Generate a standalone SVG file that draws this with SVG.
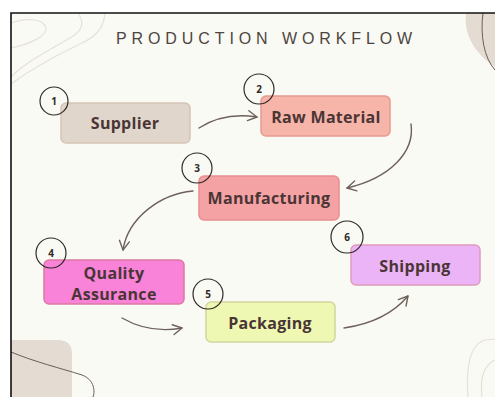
<svg xmlns="http://www.w3.org/2000/svg" width="495" height="397" viewBox="0 0 495 397">
  <defs>
    <style>
      .title { font-family: "Liberation Sans", Arial, sans-serif; font-size: 16px; fill: #4d4540; letter-spacing: 4.9px; }
      .box { stroke-width: 1.5; }
      .label { font-family: "Open Sans", "Liberation Sans", sans-serif; font-weight: bold; font-size: 16px; fill: #4a3535; text-anchor: middle; letter-spacing: 0.3px; }
      .badge { fill: none; stroke: #2f2a28; stroke-width: 1.2; }
      .num { font-family: "Open Sans", "Liberation Sans", sans-serif; font-weight: bold; font-size: 10px; fill: #2f2a28; text-anchor: middle; }
      .flow { fill: none; stroke: #6e615c; stroke-width: 1.4; stroke-linecap: round; }
      .contour { fill: none; stroke: #e6e1d8; stroke-width: 1.2; }
    </style>
    <marker id="arrow" viewBox="0 0 12 12" refX="10" refY="6" markerWidth="12" markerHeight="12" markerUnits="userSpaceOnUse" orient="auto">
      <path d="M1,1 L10,6 L1,11" fill="none" stroke="#6e615c" stroke-width="1.4" stroke-linecap="round" stroke-linejoin="round"/>
    </marker>
  </defs>

  <!-- page and frame -->
  <rect x="0" y="0" width="495" height="397" fill="#ffffff"/>
  <rect x="11" y="13" width="490" height="390" fill="#fafaf4"/>

  <!-- background decoration -->
  <g id="decor">
    <path class="contour" d="M78,13 C84,22 84,30 70,38 C50,50 25,62 11,77"/>
    <path class="contour" d="M105,13 C104,26 98,36 80,44 C55,56 30,70 11,84"/>
    <path class="contour" d="M11,23 C25,18 42,18 46,27 C48,36 30,44 11,48"/>
    <path d="M466,13 C464,30 470,50 495,67 L495,13 Z" fill="#e4dcd2"/>
    <path d="M483,13 C480,35 484,58 495,70" fill="none" stroke="#6b5d58" stroke-width="1"/>
    <path d="M11,340 L58,340 Q72,340 72,354 L72,397 L11,397 Z" fill="#e4dcd2"/>
    <path d="M11,352 C35,362 60,368 82,375 C95,380 95,392 93,397" fill="none" stroke="#6b5d58" stroke-width="1"/>
    <path class="contour" d="M468,397 C466,370 468,345 485,340 L495,339"/>
    <path class="contour" d="M482,397 C480,380 482,366 495,360"/>
  </g>

  <!-- frame edges -->
  <path d="M11,397 L11,13 L495,13" fill="none" stroke="#111111" stroke-width="1.6"/>

  <text class="title" x="116" y="44">PRODUCTION WORKFLOW</text>

  <!-- connectors -->
  <g id="connectors">
    <path class="flow" d="M199,128 Q224,112 257,117" marker-end="url(#arrow)"/>
    <path class="flow" d="M411,124 C415,152 390,178 347,188" marker-end="url(#arrow)"/>
    <path class="flow" d="M193,191 C160,194 128,218 123,250" marker-end="url(#arrow)"/>
    <path class="flow" d="M122,318 Q150,334 182,328" marker-end="url(#arrow)"/>
    <path class="flow" d="M344,328 Q386,322 408,296" marker-end="url(#arrow)"/>
  </g>

  <!-- nodes -->
  <g id="supplier">
    <rect class="box" x="61" y="103" width="129" height="40" rx="5" fill="#e1d6cb" stroke="#d5c5b6"/>
    <text class="label" x="125" y="129">Supplier</text>
    <circle class="badge" cx="54" cy="101" r="14"/>
    <text class="num" x="54" y="105">1</text>
  </g>

  <g id="raw-material">
    <rect class="box" x="261" y="96" width="129" height="40" rx="5" fill="#f7b4a8" stroke="#e59a8e"/>
    <text class="label" x="326" y="123">Raw Material</text>
    <circle class="badge" cx="259" cy="89" r="15"/>
    <text class="num" x="259" y="93">2</text>
  </g>

  <g id="manufacturing">
    <rect class="box" x="199" y="176" width="140" height="44" rx="5" fill="#f5a2a5" stroke="#e88f93"/>
    <text class="label" x="269" y="204">Manufacturing</text>
    <circle class="badge" cx="197" cy="168" r="15"/>
    <text class="num" x="197" y="172">3</text>
  </g>

  <g id="quality-assurance">
    <rect class="box" x="44" y="260" width="140" height="44" rx="5" fill="#f883d9" stroke="#da7aa0"/>
    <text class="label" x="114" y="279">Quality</text>
    <text class="label" x="114" y="300">Assurance</text>
    <circle class="badge" cx="51" cy="253" r="15"/>
    <text class="num" x="51" y="257">4</text>
  </g>

  <g id="packaging">
    <rect class="box" x="206" y="302" width="129" height="40" rx="5" fill="#eef8b2" stroke="#d2d59e"/>
    <text class="label" x="270" y="329">Packaging</text>
    <circle class="badge" cx="208" cy="294" r="15"/>
    <text class="num" x="208" y="298">5</text>
  </g>

  <g id="shipping">
    <rect class="box" x="351" y="245" width="129" height="40" rx="5" fill="#ebb4f6" stroke="#e09abd"/>
    <text class="label" x="415" y="272">Shipping</text>
    <circle class="badge" cx="347" cy="237" r="16"/>
    <text class="num" x="347" y="241">6</text>
  </g>
</svg>
